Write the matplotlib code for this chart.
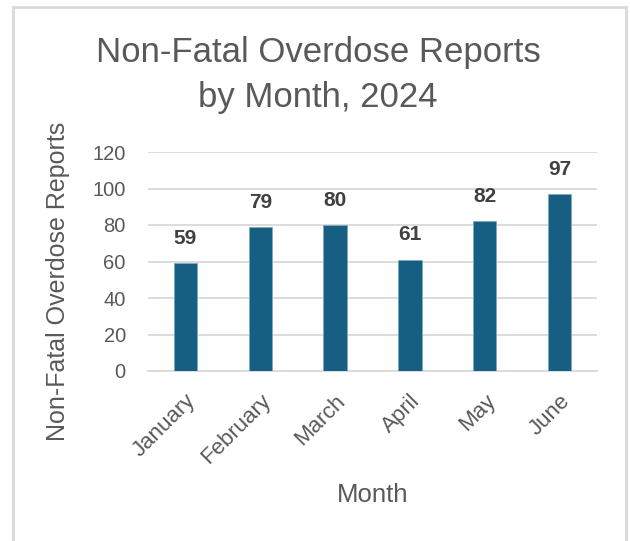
import matplotlib.pyplot as plt
from matplotlib.patches import Rectangle

months = ['January', 'February', 'March', 'April', 'May', 'June']
reports = [59, 79, 80, 61, 82, 97]
y_ticks = [0, 20, 40, 60, 80, 100, 120]

plt.rcParams['font.family'] = ['Liberation Sans', 'DejaVu Sans']

fig = plt.figure(figsize=(6.3, 5.41), dpi=100)
W, H = 630, 541

# light frame around the chart (open at the bottom)
fig.patches.append(Rectangle((13 / W, -0.05), (626 - 13) / W, 1.05 - 7 / H,
                             transform=fig.transFigure, fill=False,
                             edgecolor='#d9d9d9', linewidth=2))

ax = fig.add_axes([148 / W, 1 - 371 / H, (597 - 148) / W, (371 - 152) / H])

x = list(range(len(months)))
bars = ax.bar(x, reports, width=0.31, color='#175f82', edgecolor='#7fa9c0',
              linewidth=0.6, zorder=3)

for xi, v in zip(x, reports):
    ax.annotate(str(v), (xi, v), xytext=(0, 11), textcoords='offset points',
                ha='center', va='bottom', fontsize=15, fontweight='bold',
                color='#404040')

ax.set_xlim(-0.5, len(months) - 0.5)
ax.set_ylim(0, 120)
ax.set_yticks(y_ticks)
ax.grid(axis='y', color='#d9d9d9', linewidth=1.3, zorder=0)
for s in ['top', 'right', 'left']:
    ax.spines[s].set_visible(False)
ax.spines['bottom'].set_color('#d9d9d9')
ax.spines['bottom'].set_linewidth(1.3)
ax.tick_params(length=0, colors='#595959', labelsize=14.5)
ax.tick_params(axis='y', pad=16)

ax.set_xticks(x)
ax.set_xticklabels(months, rotation=45, ha='right', rotation_mode='anchor',
                   fontsize=16)
ax.tick_params(axis='x', pad=14)

ax.set_xlabel('Month', fontsize=18.5, color='#595959')
ax.xaxis.set_label_coords(0.5, (371 - 495) / (371 - 152))
ax.set_ylabel('Non-Fatal Overdose Reports', fontsize=18, color='#595959')
ax.yaxis.set_label_coords((58 - 148) / (597 - 148), (371 - 281) / (371 - 152))
ax.yaxis.label.set_va('center')
ax.xaxis.label.set_va('center')

fig.text(0.505, 1 - 75 / H, 'Non-Fatal Overdose Reports\nby Month, 2024',
         ha='center', va='center', fontsize=25, color='#595959',
         linespacing=1.45)

fig.savefig('out.png', dpi=100)
